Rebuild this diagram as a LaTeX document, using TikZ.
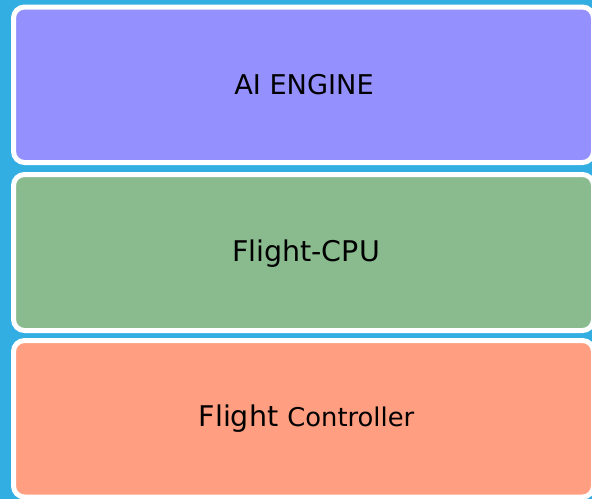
\documentclass[tikz,border=0pt]{standalone}
\usepackage{fontspec}
\setmainfont{DejaVu Sans}
\definecolor{bgblue}{HTML}{33AEE3}
\definecolor{aipurple}{HTML}{9491FF}
\definecolor{cpugreen}{HTML}{8ABB8F}
\definecolor{fcsalmon}{HTML}{FF9E80}
\tikzset{
  layer/.style={draw=white, line width=5pt, rounded corners=11pt, minimum width=580pt, inner sep=0pt, outer sep=0pt},
  lbl/.style={anchor=base, inner sep=0pt, text=black}
}
\begin{document}
\begin{tikzpicture}[x=1pt,y=-1pt]
\useasboundingbox (0,0) rectangle (592,499);
\fill[bgblue] (0,0) rectangle (592,499);
\begin{scope}
\clip (0,0) rectangle (592,499);
\node[layer, fill=aipurple, minimum height=155.5pt] (ai) at (303.5,84.75) {};
\node[layer, fill=cpugreen, minimum height=156pt] (cpu) at (303.5,252.5) {};
\node[layer, fill=fcsalmon, minimum height=156.5pt] (fc) at (303.5,418.75) {};
\end{scope}
\node[lbl] (ait) at (304,94) {\fontsize{27.2}{32}\selectfont AI ENGINE};
\node[lbl] (cput) at (306,261) {\fontsize{28.5}{34}\selectfont Flight-CPU};
\node[lbl] (fct) at (306.5,426.5) {\fontsize{28.5}{34}\selectfont Flight \fontsize{25.8}{30}\selectfont Controller};
\end{tikzpicture}
\end{document}
